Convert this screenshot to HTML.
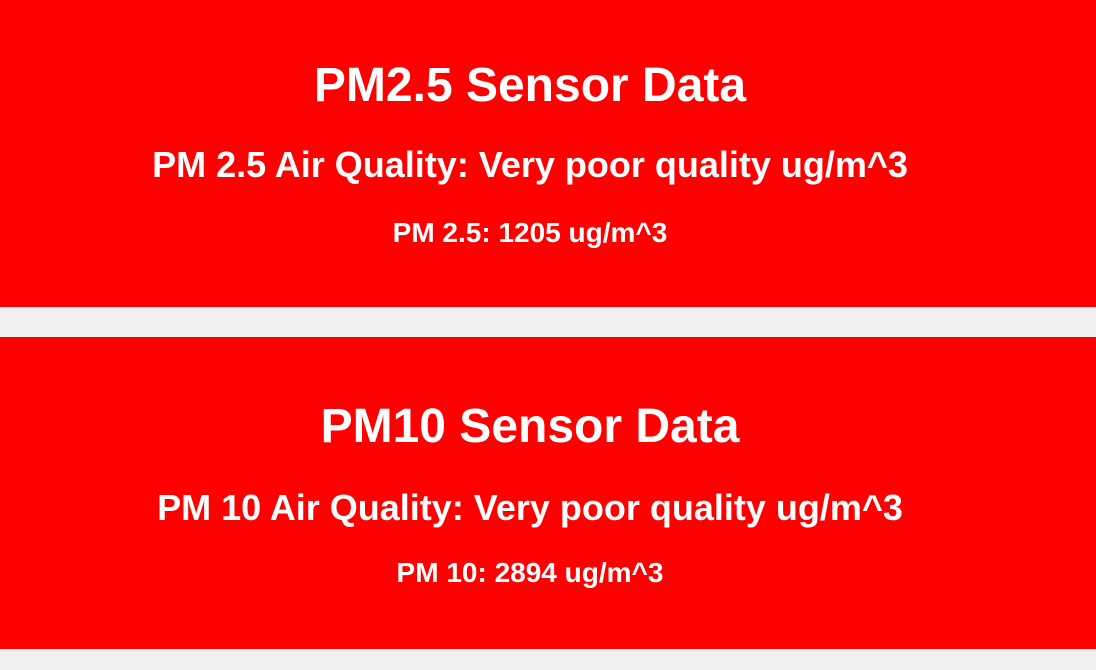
<!DOCTYPE html>
<html><head><meta charset="utf-8"><style>
html,body{margin:0;padding:0;background:#f0f0f0;width:1096px;height:670px;overflow:hidden;font-family:"Liberation Sans",Arial,sans-serif;color:#fff}
.card{position:absolute;left:0;width:1096px;background:#ff0000}
.t{position:absolute;left:0;width:1060px;text-align:center;font-weight:bold;white-space:nowrap;line-height:1}
.h1{font-size:48px}
.h2{font-size:36px}
.h3{font-size:28px}
</style></head><body>
<div class="card" style="top:0;height:307px">
  <div class="t h1" style="top:62px">PM2.5 Sensor Data</div>
  <div class="t h2" style="top:147px">PM 2.5 Air Quality: Very poor quality ug/m^3</div>
  <div class="t h3" style="top:219px">PM 2.5: 1205 ug/m^3</div>
</div>
<div class="card" style="top:337px;height:312px">
  <div class="t h1" style="top:66px">PM10 Sensor Data</div>
  <div class="t h2" style="top:153px">PM 10 Air Quality: Very poor quality ug/m^3</div>
  <div class="t h3" style="top:222px">PM 10: 2894 ug/m^3</div>
</div>
</body></html>
